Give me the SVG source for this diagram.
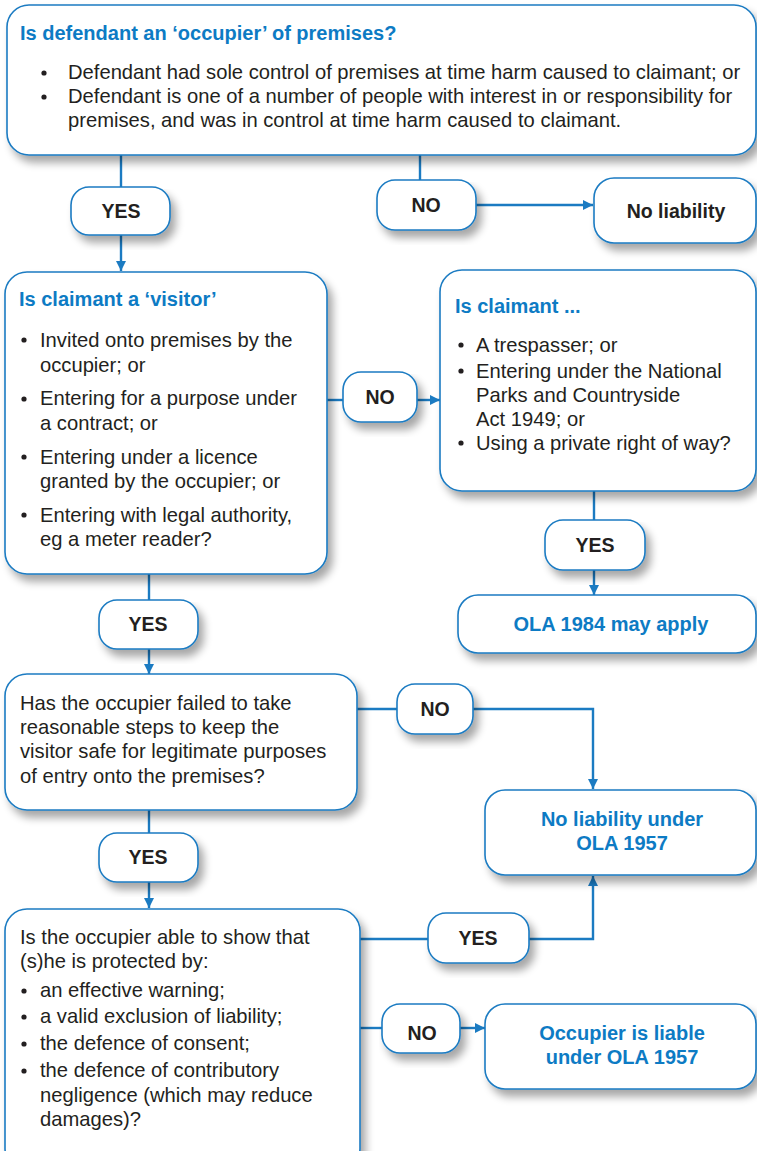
<svg xmlns="http://www.w3.org/2000/svg" width="757" height="1151" viewBox="0 0 757 1151">
  <defs>
    <filter id="shadow" x="-10%" y="-10%" width="130%" height="140%">
      <feGaussianBlur in="SourceAlpha" stdDeviation="4"/>
      <feOffset dx="5" dy="7" result="b"/>
      <feComponentTransfer><feFuncA type="linear" slope="0.35"/></feComponentTransfer>
      <feMerge><feMergeNode/><feMergeNode in="SourceGraphic"/></feMerge>
    </filter>
    <marker id="arrow" viewBox="0 0 10 10" refX="10" refY="5" markerWidth="10" markerHeight="10" markerUnits="userSpaceOnUse" orient="auto">
      <path d="M0,0 L10,5 L0,10 z" fill="#1b7bc2"/>
    </marker>
  </defs>
  <style>
    .box { fill: #ffffff; stroke: #1b7bc2; stroke-width: 1.6; filter: url(#shadow); }
    .line { fill: none; stroke: #1b7bc2; stroke-width: 2.4; }
    .title { font-family: "Liberation Sans", Arial, sans-serif; font-size: 20px; font-weight: bold; fill: #0d7bc4; }
    .body { font-family: "Liberation Sans", Arial, sans-serif; font-size: 20.2px; fill: #231f20; }
    .pill { font-family: "Liberation Sans", Arial, sans-serif; font-size: 19.5px; font-weight: bold; fill: #231f20; text-anchor: middle; }
    .result { font-family: "Liberation Sans", Arial, sans-serif; font-size: 20px; font-weight: bold; fill: #0d7bc4; text-anchor: middle; }
    .dark { fill: #231f20; }
  </style>
  <rect width="757" height="1151" fill="#ffffff"/>

  <!-- connectors -->
  <g id="connectors">
    <line class="line" x1="121" y1="155" x2="121" y2="187"/>
    <line class="line" x1="121" y1="235" x2="121" y2="271" marker-end="url(#arrow)"/>
    <line class="line" x1="420" y1="155" x2="420" y2="180"/>
    <line class="line" x1="476" y1="205" x2="593" y2="205" marker-end="url(#arrow)"/>
    <line class="line" x1="327" y1="400" x2="343" y2="400"/>
    <line class="line" x1="417" y1="400" x2="440" y2="400" marker-end="url(#arrow)"/>
    <line class="line" x1="594" y1="491" x2="594" y2="520"/>
    <line class="line" x1="594" y1="570" x2="594" y2="595" marker-end="url(#arrow)"/>
    <line class="line" x1="149" y1="574" x2="149" y2="600"/>
    <line class="line" x1="149" y1="649" x2="149" y2="674" marker-end="url(#arrow)"/>
    <line class="line" x1="357" y1="709" x2="397" y2="709"/>
    <polyline class="line" points="473,709 593,709 593,789" marker-end="url(#arrow)"/>
    <line class="line" x1="149" y1="810" x2="149" y2="833"/>
    <line class="line" x1="149" y1="882" x2="149" y2="908" marker-end="url(#arrow)"/>
    <line class="line" x1="360" y1="939" x2="428" y2="939"/>
    <polyline class="line" points="529,939 593,939 593,876" marker-end="url(#arrow)"/>
    <line class="line" x1="360" y1="1028" x2="382" y2="1028"/>
    <line class="line" x1="460" y1="1028" x2="485" y2="1028" marker-end="url(#arrow)"/>
  </g>

  <!-- Q1: occupier -->
  <g id="q-occupier">
    <rect class="box" x="7" y="5" width="749" height="150" rx="22"/>
    <text class="title" x="20" y="40">Is defendant an ‘occupier’ of premises?</text>
    <g class="body">
      <circle class="dark" cx="44" cy="73" r="2.6"/>
      <text x="68" y="79">Defendant had sole control of premises at time harm caused to claimant; or</text>
      <circle class="dark" cx="44" cy="97" r="2.6"/>
      <text x="68" y="103">Defendant is one of a number of people with interest in or responsibility for</text>
      <text x="68" y="127">premises, and was in control at time harm caused to claimant.</text>
    </g>
  </g>

  <g id="yes-1">
    <rect class="box" x="71" y="187" width="99" height="48" rx="18"/>
    <text class="pill" x="121" y="218">YES</text>
  </g>
  <g id="no-1">
    <rect class="box" x="377" y="180" width="99" height="50" rx="18"/>
    <text class="pill" x="426" y="212">NO</text>
  </g>
  <g id="no-liability">
    <rect class="box" x="594" y="178" width="162" height="65" rx="20"/>
    <text class="pill" x="676" y="218">No liability</text>
  </g>

  <!-- Q2: visitor -->
  <g id="q-visitor">
    <rect class="box" x="5" y="272" width="322" height="302" rx="22"/>
    <text class="title" x="19" y="306">Is claimant a ‘visitor’</text>
    <g class="body">
      <circle class="dark" cx="24" cy="340" r="2.6"/>
      <text x="40" y="347">Invited onto premises by the</text>
      <text x="40" y="372">occupier; or</text>
      <circle class="dark" cx="24" cy="399" r="2.6"/>
      <text x="40" y="405">Entering for a purpose under</text>
      <text x="40" y="430">a contract; or</text>
      <circle class="dark" cx="24" cy="457" r="2.6"/>
      <text x="40" y="464">Entering under a licence</text>
      <text x="40" y="488">granted by the occupier; or</text>
      <circle class="dark" cx="24" cy="515" r="2.6"/>
      <text x="40" y="522">Entering with legal authority,</text>
      <text x="40" y="546">eg a meter reader?</text>
    </g>
  </g>

  <g id="no-2">
    <rect class="box" x="343" y="372" width="74" height="50" rx="18"/>
    <text class="pill" x="380" y="404">NO</text>
  </g>

  <!-- Q2b: other entrants -->
  <g id="q-claimant">
    <rect class="box" x="440" y="270" width="316" height="221" rx="22"/>
    <text class="title" x="455" y="313">Is claimant ...</text>
    <g class="body">
      <circle class="dark" cx="461" cy="345" r="2.6"/>
      <text x="476" y="352">A trespasser; or</text>
      <circle class="dark" cx="461" cy="371" r="2.6"/>
      <text x="476" y="378">Entering under the National</text>
      <text x="476" y="402">Parks and Countryside</text>
      <text x="476" y="426">Act 1949; or</text>
      <circle class="dark" cx="461" cy="443" r="2.6"/>
      <text x="476" y="450">Using a private right of way?</text>
    </g>
  </g>

  <g id="yes-2">
    <rect class="box" x="545" y="520" width="100" height="50" rx="18"/>
    <text class="pill" x="595" y="552">YES</text>
  </g>
  <g id="ola-1984">
    <rect class="box" x="458" y="595" width="298" height="58" rx="20"/>
    <text class="result" x="611" y="631">OLA 1984 may apply</text>
  </g>

  <g id="yes-3">
    <rect class="box" x="99" y="600" width="99" height="49" rx="18"/>
    <text class="pill" x="148" y="631">YES</text>
  </g>

  <!-- Q3: reasonable steps -->
  <g id="q-steps">
    <rect class="box" x="5" y="674" width="352" height="136" rx="22"/>
    <g class="body">
      <text x="20" y="710">Has the occupier failed to take</text>
      <text x="20" y="734">reasonable steps to keep the</text>
      <text x="20" y="758">visitor safe for legitimate purposes</text>
      <text x="20" y="783">of entry onto the premises?</text>
    </g>
  </g>

  <g id="no-3">
    <rect class="box" x="397" y="684" width="76" height="50" rx="18"/>
    <text class="pill" x="435" y="716">NO</text>
  </g>
  <g id="no-liability-1957">
    <rect class="box" x="485" y="790" width="271" height="85" rx="20"/>
    <text class="result" x="622" y="826">No liability under</text>
    <text class="result" x="622" y="850">OLA 1957</text>
  </g>

  <g id="yes-4">
    <rect class="box" x="99" y="833" width="99" height="49" rx="18"/>
    <text class="pill" x="148" y="864">YES</text>
  </g>

  <!-- Q4: defences -->
  <g id="q-defences">
    <rect class="box" x="5" y="909" width="355" height="262" rx="22"/>
    <g class="body">
      <text x="20" y="944">Is the occupier able to show that</text>
      <text x="20" y="968">(s)he is protected by:</text>
      <circle class="dark" cx="24" cy="991" r="2.6"/>
      <text x="40" y="997">an effective warning;</text>
      <circle class="dark" cx="24" cy="1017" r="2.6"/>
      <text x="40" y="1023">a valid exclusion of liability;</text>
      <circle class="dark" cx="24" cy="1044" r="2.6"/>
      <text x="40" y="1050">the defence of consent;</text>
      <circle class="dark" cx="24" cy="1071" r="2.6"/>
      <text x="40" y="1077">the defence of contributory</text>
      <text x="40" y="1102">negligence (which may reduce</text>
      <text x="40" y="1126">damages)?</text>
    </g>
  </g>

  <g id="yes-5">
    <rect class="box" x="428" y="913" width="101" height="50" rx="18"/>
    <text class="pill" x="478" y="945">YES</text>
  </g>
  <g id="no-4">
    <rect class="box" x="382" y="1004" width="78" height="49" rx="18"/>
    <text class="pill" x="422" y="1040">NO</text>
  </g>
  <g id="occupier-liable">
    <rect class="box" x="485" y="1004" width="271" height="85" rx="20"/>
    <text class="result" x="622" y="1040">Occupier is liable</text>
    <text class="result" x="622" y="1064">under OLA 1957</text>
  </g>
</svg>
